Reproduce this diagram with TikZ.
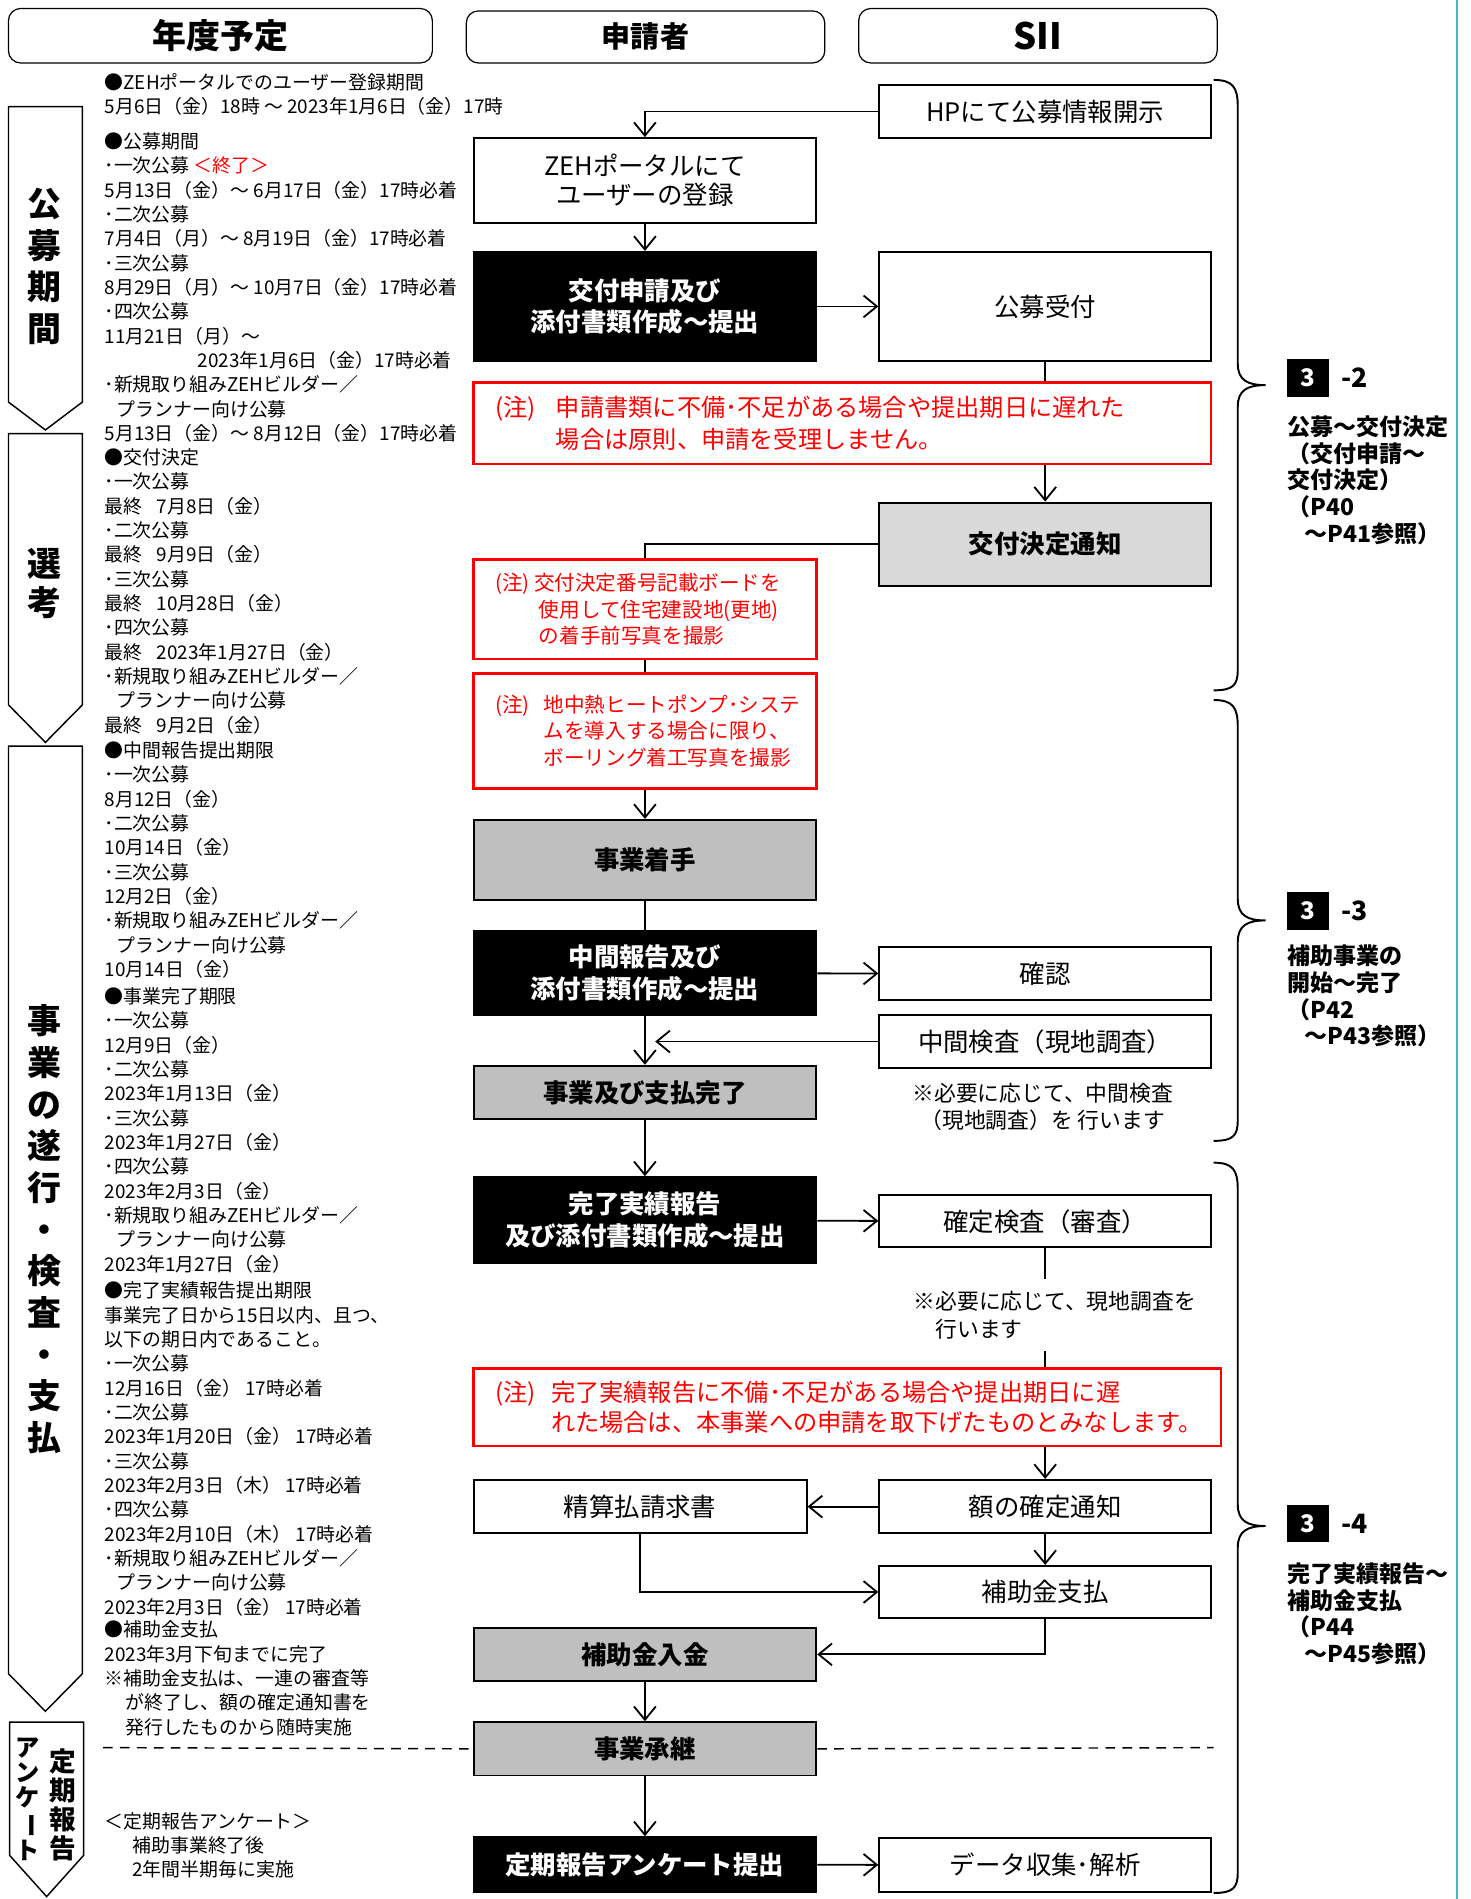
\documentclass[tikz,border=0pt]{standalone}
\usepackage{fontspec}
\usepackage{graphicx}
\setmainfont{Noto Sans CJK JP}
\usetikzlibrary{arrows.meta,positioning}
\definecolor{boxgray}{RGB}{191,191,191}
\definecolor{notifygray}{RGB}{217,217,217}
\definecolor{edgeteal}{RGB}{75,180,195}
\begin{document}
\begin{tikzpicture}[x=0.5pt,y=-0.5pt,
    hdr/.style={draw, rounded corners=5pt, line width=0.5pt, inner sep=0pt, font=\bfseries},
    whitebox/.style={draw, line width=0.8pt, inner sep=0pt, align=center, font=\fontsize{10.5}{12}\selectfont},
    leftbox/.style={whitebox, minimum width=141.5pt},
    siibox/.style={whitebox, minimum width=137pt},
    blackfill/.style={fill=black, text=white, font=\fontsize{10.5}{13}\selectfont\bfseries},
    grayfill/.style={fill=boxgray, font=\fontsize{10.5}{13}\selectfont\bfseries},
    rednote/.style={draw=red, line width=1pt, fill=white, text=red, align=left, inner xsep=9pt, inner ysep=0pt},
    sched/.style={anchor=north west, inner sep=0pt, align=left, font=\fontsize{7.8}{10.05}\selectfont},
    remark/.style={fill=white, inner xsep=2pt, inner ysep=5pt, font=\fontsize{9}{11.5}\selectfont},
    phase/.style={align=center, inner sep=0pt, font=\fontsize{14}{17.2}\selectfont\bfseries},
    secnum/.style={fill=black, text=white, inner sep=0pt, minimum width=17pt, minimum height=15.5pt, font=\fontsize{10}{10}\selectfont\bfseries},
    secsub/.style={inner sep=0pt, font=\fontsize{11}{11}\selectfont\bfseries},
    sectext/.style={anchor=north west, inner sep=0pt, align=left, font=\fontsize{9.5}{11}\selectfont\bfseries},
    arr/.style={-{Straight Barb[length=5.5pt,width=9pt]}, line width=0.75pt},
    link/.style={line width=0.75pt},
    brace/.style={line width=0.8pt},
    phasearrow/.style={line width=0.6pt}]

\useasboundingbox (0,0) rectangle (1214,1568);

% column headers
\node[hdr, minimum width=175pt, minimum height=22.5pt, font=\fontsize{14}{14}\selectfont\bfseries] (hyear) at (182,29.5) {年度予定};
\node[hdr, minimum width=148pt, minimum height=21.5pt, font=\fontsize{12}{12}\selectfont\bfseries] (happ) at (533,30.5) {申請者};
\node[hdr, minimum width=148pt, minimum height=22.5pt, font=\fontsize{15}{15}\selectfont\bfseries] (hsii) at (857,29.5) {SII};

% phase arrows on the left
\draw[phasearrow] (7,88) -- (68,88) -- (68,332) -- (37.5,355) -- (7,332) -- cycle;
\draw[phasearrow] (7,358) -- (68,358) -- (68,582) -- (37.5,613) -- (7,582) -- cycle;
\draw[phasearrow] (7,616) -- (68,616) -- (68,1382) -- (37.5,1413) -- (7,1382) -- cycle;
\draw[phasearrow] (8,1422) -- (69,1422) -- (69,1532) -- (38.5,1566) -- (8,1532) -- cycle;
\node[phase] (pboshu) at (37,220) {公\\募\\期\\間};
\node[phase, font=\fontsize{14}{16}\selectfont\bfseries] (psenko) at (37,482) {選\\考};
\node[phase] (pjigyo) at (37,1015) {事\\業\\の\\遂\\行\\・\\検\\査\\・\\支\\払};
\node[phase, font=\fontsize{11}{12}\selectfont\bfseries] (pteiki) at (52,1490) {定\\期\\報\\告};
\node[phase, font=\fontsize{10}{10.3}\selectfont\bfseries] (penq) at (23,1486) {ア\\ン\\ケ\\\rotatebox[origin=c]{-90}{ー}\\ト};

% schedule text
\node[sched] (tzeh) at (86,60) {●ZEHポータルでのユーザー登録期間\\
5月6日（金）18時 ～ 2023年1月6日（金）17時};
\node[sched] (tboshu) at (86,109) {●公募期間\\
･一次公募 \textcolor{red}{＜終了＞}\\
5月13日（金）～ 6月17日（金）17時必着\\
･二次公募\\
7月4日（月）～ 8月19日（金）17時必着\\
･三次公募\\
8月29日（月）～ 10月7日（金）17時必着\\
･四次公募\\
11月21日（月）～\\
\hspace*{38.5pt}2023年1月6日（金）17時必着\\
･新規取り組みZEHビルダー／\\
\hspace*{5pt}プランナー向け公募\\
5月13日（金）～ 8月12日（金）17時必着};
\node[sched] (tkettei) at (86,370) {●交付決定\\
･一次公募\\
最終\hspace{6pt}7月8日（金）\\
･二次公募\\
最終\hspace{6pt}9月9日（金）\\
･三次公募\\
最終\hspace{6pt}10月28日（金）\\
･四次公募\\
最終\hspace{6pt}2023年1月27日（金）\\
･新規取り組みZEHビルダー／\\
\hspace*{5pt}プランナー向け公募\\
最終\hspace{6pt}9月2日（金）};
\node[sched] (tchukan) at (86,612) {●中間報告提出期限\\
･一次公募\\
8月12日（金）\\
･二次公募\\
10月14日（金）\\
･三次公募\\
12月2日（金）\\
･新規取り組みZEHビルダー／\\
\hspace*{5pt}プランナー向け公募\\
10月14日（金）};
\node[sched] (tkanryo) at (86,815) {●事業完了期限\\
･一次公募\\
12月9日（金）\\
･二次公募\\
2023年1月13日（金）\\
･三次公募\\
2023年1月27日（金）\\
･四次公募\\
2023年2月3日（金）\\
･新規取り組みZEHビルダー／\\
\hspace*{5pt}プランナー向け公募\\
2023年1月27日（金）};
\node[sched] (tjisseki) at (86,1058) {●完了実績報告提出期限\\
事業完了日から15日以内、且つ、\\
以下の期日内であること。\\
･一次公募\\
12月16日（金） 17時必着\\
･二次公募\\
2023年1月20日（金） 17時必着\\
･三次公募\\
2023年2月3日（木） 17時必着\\
･四次公募\\
2023年2月10日（木） 17時必着\\
･新規取り組みZEHビルダー／\\
\hspace*{5pt}プランナー向け公募\\
2023年2月3日（金） 17時必着};
\node[sched] (tshiharai) at (86,1338) {●補助金支払\\
2023年3月下旬までに完了\\
※補助金支払は、一連の審査等\\
\hspace*{8.5pt}が終了し、額の確定通知書を\\
\hspace*{8.5pt}発行したものから随時実施};
\node[sched] (tenq) at (86,1496) {＜定期報告アンケート＞\\
\hspace*{11.5pt}補助事業終了後\\
\hspace*{11.5pt}2年間半期毎に実施};

% flow boxes
\node[siibox, minimum height=22pt] (hp) at (863,92) {HPにて公募情報開示};
\node[leftbox, minimum height=35pt, font=\fontsize{10.5}{12}\selectfont] (zeh) at (532.5,149) {ZEHポータルにて\\ユーザーの登録};
\node[leftbox, blackfill, minimum height=45pt] (apply) at (532.5,253) {交付申請及び\\添付書類作成～提出};
\node[siibox, minimum height=45pt] (recv) at (863,253) {公募受付};
\node[siibox, fill=notifygray, minimum height=34.5pt, font=\fontsize{10.5}{12}\selectfont\bfseries] (notify) at (863,449.5) {交付決定通知};
\node[leftbox, grayfill, minimum height=33pt] (start) at (532.5,710) {事業着手};
\node[leftbox, blackfill, minimum height=34.5pt] (mid) at (532.5,803.5) {中間報告及び\\添付書類作成～提出};
\node[siibox, minimum height=22pt] (check) at (863,804) {確認};
\node[siibox, minimum height=22pt] (insp) at (863,860) {中間検査（現地調査）};
\node[leftbox, grayfill, minimum height=22pt] (done) at (532.5,902) {事業及び支払完了};
\node[leftbox, blackfill, minimum height=35.5pt] (report) at (532.5,1007.5) {完了実績報告\\及び添付書類作成～提出};
\node[siibox, minimum height=21.5pt] (final) at (863,1008.5) {確定検査（審査）};
\node[siibox, minimum height=22pt] (amount) at (863,1244) {額の確定通知};
\node[leftbox, minimum width=137.5pt, minimum height=22pt] (bill) at (528.5,1244) {精算払請求書};
\node[siibox, minimum height=21.5pt] (pay) at (863,1314.5) {補助金支払};
\node[leftbox, grayfill, minimum height=22pt] (paid) at (532.5,1366) {補助金入金};
\node[leftbox, grayfill, minimum height=22pt] (succ) at (532.5,1444) {事業承継};
\node[leftbox, blackfill, minimum height=22.5pt] (survey) at (532.5,1539.5) {定期報告アンケート提出};
\node[siibox, minimum height=22pt] (data) at (863,1540) {データ収集･解析};

\coordinate (insptip) at (541,860);
\coordinate (dashl) at (85,1443);
\coordinate (dashr) at (1002,1443);

% connectors
\draw[arr] (hp.west) -| (zeh.north);
\draw[arr] (zeh) -- (apply);
\draw[arr] (apply) -- (recv);
\draw[arr] (recv) -- (notify);
\draw[arr] (notify.west) -| (start.north);
\draw[link] (start) -- (mid);
\draw[arr] (mid) -- (check);
\draw[arr] (insp.west) -- (insptip);
\draw[arr] (mid) -- (done);
\draw[arr] (done) -- (report);
\draw[arr] (report) -- (final);
\draw[arr] (final) -- (amount);
\draw[arr] (amount) -- (bill);
\draw[arr] (amount) -- (pay);
\draw[arr] (bill.south) |- (pay.west);
\draw[arr] (pay.south) |- (paid.east);
\draw[arr] (paid) -- (succ);
\draw[arr] (succ) -- (survey);
\draw[arr] (survey) -- (data);
\draw[dashed, dash pattern=on 4pt off 3pt, line width=0.6pt] (dashl) -- (succ.west);
\draw[dashed, dash pattern=on 4pt off 3pt, line width=0.6pt] (succ.east) -- (dashr);

% red notes and remarks over the lines
\node[rednote, text width=286.5pt, minimum height=33.5pt, font=\fontsize{10}{13}\selectfont] (note1) at (695.5,349.5) {\makebox[25pt][l]{(注)}申請書類に不備･不足がある場合や提出期日に遅れた\\
\hspace*{25pt}場合は原則、申請を受理しません。};
\node[rednote, text width=123.5pt, minimum height=41pt, font=\fontsize{8.5}{11}\selectfont] (note2) at (532.5,503) {\makebox[16pt][l]{(注)}交付決定番号記載ボードを\\
\hspace*{18pt}使用して住宅建設地(更地)\\
\hspace*{18pt}の着手前写真を撮影};
\node[rednote, text width=123.5pt, minimum height=47.5pt, font=\fontsize{8.5}{11}\selectfont] (note3) at (532.5,603.5) {\makebox[20pt][l]{(注)}地中熱ヒートポンプ･システ\\
\hspace*{20pt}ムを導入する場合に限り、\\
\hspace*{20pt}ボーリング着工写真を撮影};
\node[rednote, text width=290.5pt, minimum height=32pt, font=\fontsize{10}{12.5}\selectfont] (note4) at (699.5,1162) {\makebox[23pt][l]{(注)}完了実績報告に不備･不足がある場合や提出期日に遅\\
\hspace*{23pt}れた場合は、本事業への申請を取下げたものとみなします。};
\node[remark, align=center] (inspnote) at (861,914) {※必要に応じて、中間検査\\（現地調査）を 行います};
\node[remark, align=left, anchor=west] (finalnote) at (750,1086) {※必要に応じて、現地調査を\\\hspace*{9pt}行います};

% section braces
\draw[brace] (1002,66) .. controls (1018,66) and (1022,72) .. (1022,88) -- (1022,300) .. controls (1022,314) and (1030,318) .. (1045,318) .. controls (1030,318) and (1022,322) .. (1022,336) -- (1022,553) .. controls (1022,566) and (1018,570) .. (1002,570);
\draw[brace] (1002,578) .. controls (1018,578) and (1022,584) .. (1022,600) -- (1022,742) .. controls (1022,756) and (1030,760) .. (1045,760) .. controls (1030,760) and (1022,764) .. (1022,778) -- (1022,925) .. controls (1022,938) and (1018,942) .. (1002,942);
\draw[brace] (1002,960) .. controls (1018,960) and (1022,966) .. (1022,982) -- (1022,1242) .. controls (1022,1256) and (1030,1260) .. (1045,1260) .. controls (1030,1260) and (1022,1264) .. (1022,1278) -- (1022,1546) .. controls (1022,1559) and (1018,1563) .. (1002,1563);

% section labels
\node[secnum] (s2num) at (1080,312) {3};
\node[secsub, right=5pt of s2num] (s2sub) {-2};
\node[sectext] (s2txt) at (1063,343) {公募～交付決定\\（交付申請～\\交付決定）\\（P40\\\hspace*{7pt}～P41参照）};
\node[secnum] (s3num) at (1080,752) {3};
\node[secsub, right=5pt of s3num] (s3sub) {-3};
\node[sectext] (s3txt) at (1063,780) {補助事業の\\開始～完了\\（P42\\\hspace*{7pt}～P43参照）};
\node[secnum] (s4num) at (1080,1258) {3};
\node[secsub, right=5pt of s4num] (s4sub) {-4};
\node[sectext] (s4txt) at (1063,1290) {完了実績報告～\\補助金支払\\（P44\\\hspace*{7pt}～P45参照）};

% page edge
\draw[edgeteal, line width=0.5pt] (1203,0) -- (1203,1568);
\end{tikzpicture}
\end{document}
